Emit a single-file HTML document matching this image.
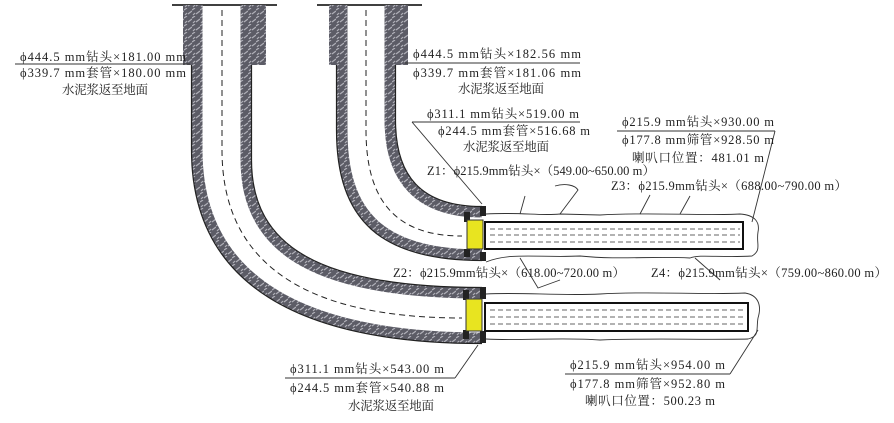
<!DOCTYPE html>
<html><head><meta charset="utf-8"><style>
html,body{margin:0;padding:0;background:#fff;}
svg{display:block;}
text{font-family:"Liberation Serif","Noto Serif CJK SC",serif;font-size:12.5px;fill:#222;}
</style></head><body>
<svg width="894" height="423" viewBox="0 0 894 423" xmlns="http://www.w3.org/2000/svg">
<defs>
<pattern id="m" width="8" height="8" patternUnits="userSpaceOnUse">
<rect width="8" height="8" fill="#5c5c66"/>
<path d="M0 2 L3 0 M4 6 L8 3 M1 7 L3 5" stroke="#b0b0b8" stroke-width="1.2"/>
</pattern>
</defs>
<line x1="172" y1="5" x2="277" y2="5" stroke="#000" stroke-width="1.5"/>
<line x1="317" y1="5" x2="422" y2="5" stroke="#000" stroke-width="1.5"/>
<rect x="183" y="5" width="14" height="60" fill="url(#m)"/>
<rect x="251" y="5" width="15" height="60" fill="url(#m)"/>
<rect x="329" y="5" width="11" height="60" fill="url(#m)"/>
<rect x="393" y="5" width="15" height="60" fill="url(#m)"/>
<g fill="none" stroke="url(#m)" stroke-width="11">
<path d="M197,5 L197,150 C197,280 300,338 482,338"/>
<path d="M246,5 L246,160 C246,252 320,293 482,293"/>
<path d="M342,5 L342,130 C342,215 380,255 482,255"/>
<path d="M390,5 L390,120 C390,180 420,212 482,212"/>
</g>
<g fill="none" stroke="#222" stroke-width="1.2">
<path d="M191.5,65 L191.5,150 C191.5,285 300,343.5 482,343.5"/>
<path d="M251.5,65 L251.5,160 C251.5,247 320,287.5 482,287.5"/>
<path d="M336.5,65 L336.5,130 C336.5,220 380,260.5 482,260.5"/>
<path d="M395.5,65 L395.5,120 C395.5,175 420,206.5 482,206.5"/>
</g>
<path d="M222,10 L222,150 C222,260 300,318 462,318" fill="none" stroke="#222" stroke-width="1" stroke-dasharray="6,4"/>
<path d="M366,10 L366,130 C366,200 395,236 462,236" fill="none" stroke="#222" stroke-width="1" stroke-dasharray="6,4"/>
<rect x="464" y="212" width="6" height="10" fill="#222"/>
<rect x="464" y="249" width="6" height="8" fill="#222"/>
<rect x="480" y="206" width="6" height="10" fill="#222"/>
<rect x="480" y="252" width="6" height="9" fill="#222"/>
<rect x="463" y="290" width="6" height="10" fill="#222"/>
<rect x="463" y="330" width="6" height="9" fill="#222"/>
<rect x="480" y="287" width="6" height="12" fill="#222"/>
<rect x="480" y="331" width="6" height="12" fill="#222"/>
<rect x="467" y="220" width="16" height="29" fill="#e8e420" stroke="#333"/>
<rect x="466" y="299" width="16" height="32" fill="#e8e420" stroke="#333"/>
<rect x="485" y="222" width="258" height="27" fill="#fff" stroke="#111" stroke-width="2"/>
<rect x="485" y="303" width="263" height="28" fill="#fff" stroke="#111" stroke-width="2"/>
<g stroke="#333" stroke-width="0.8" stroke-dasharray="5,3">
<line x1="490" y1="229" x2="740" y2="229"/><line x1="490" y1="235" x2="740" y2="235"/><line x1="490" y1="242" x2="740" y2="242"/>
<line x1="490" y1="310" x2="745" y2="310"/><line x1="490" y1="317" x2="745" y2="317"/><line x1="490" y1="324" x2="745" y2="324"/>
</g>
<g fill="none" stroke="#333" stroke-width="0.9">
<path d="M486,214 C520,212 540,216 560,214 L600,215 C650,212 700,216 740,214 C755,215 760,222 758,232 C756,244 762,250 752,256 C720,258 700,254 690,258 C650,256 620,260 580,256 C540,258 510,252 486,262"/>
<path d="M486,294 C520,292 560,296 600,294 C650,291 700,295 745,293 C758,295 762,305 758,318 C756,330 760,336 748,339 C700,340 650,338 600,340 C560,337 520,341 486,339"/>
<line x1="412" y1="122" x2="482" y2="204"/>
<path d="M560,214 L578,190 C575,185 565,183 555,186"/>
<path d="M520,214 L525,196"/>
<path d="M640,214 L650,195"/>
<path d="M680,214 L690,196"/>
<line x1="775" y1="131" x2="752" y2="222"/>
<path d="M520,258 L538,288 L560,280"/>
<path d="M695,258 L720,280"/>
<line x1="285" y1="378" x2="455" y2="378"/>
<line x1="455" y1="378" x2="478" y2="345"/>
<line x1="730" y1="374" x2="758" y2="330"/>
</g>
<g stroke="#333" stroke-width="1">
<line x1="15" y1="64" x2="190" y2="64"/>
<line x1="405" y1="63" x2="580" y2="63"/>
<line x1="412" y1="122" x2="580" y2="122"/>
<line x1="617" y1="131" x2="775" y2="131"/>
<line x1="565" y1="374" x2="730" y2="374"/>
</g>
<text x="20" y="61" textLength="166">ϕ444.5 mm钻头×181.00 mm</text>
<text x="20" y="77" textLength="166">ϕ339.7 mm套管×180.00 mm</text>
<text x="62" y="94" textLength="86">水泥浆返至地面</text>
<text x="413" y="58" textLength="168">ϕ444.5 mm钻头×182.56 mm</text>
<text x="413" y="77" textLength="168">ϕ339.7 mm套管×181.06 mm</text>
<text x="458" y="93" textLength="86">水泥浆返至地面</text>
<text x="427" y="118" textLength="152">ϕ311.1 mm钻头×519.00 m</text>
<text x="438" y="135" textLength="152">ϕ244.5 mm套管×516.68 m</text>
<text x="463" y="151" textLength="86">水泥浆返至地面</text>
<text x="427" y="175" textLength="228">Z1：ϕ215.9mm钻头×（549.00~650.00 m）</text>
<text x="622" y="126" textLength="152">ϕ215.9 mm钻头×930.00 m</text>
<text x="622" y="144" textLength="152">ϕ177.8 mm筛管×928.50 m</text>
<text x="632" y="162" textLength="132">喇叭口位置：481.01 m</text>
<text x="611" y="190" textLength="236">Z3：ϕ215.9mm钻头×（688.00~790.00 m）</text>
<text x="393" y="277" textLength="232">Z2：ϕ215.9mm钻头×（618.00~720.00 m）</text>
<text x="651" y="277" textLength="236">Z4：ϕ215.9mm钻头×（759.00~860.00 m）</text>
<text x="290" y="373" textLength="154">ϕ311.1 mm钻头×543.00 m</text>
<text x="290" y="392" textLength="154">ϕ244.5 mm套管×540.88 m</text>
<text x="348" y="410" textLength="86">水泥浆返至地面</text>
<text x="570" y="369" textLength="155">ϕ215.9 mm钻头×954.00 m</text>
<text x="570" y="388" textLength="155">ϕ177.8 mm筛管×952.80 m</text>
<text x="585" y="405" textLength="130">喇叭口位置：500.23 m</text>
</svg>
</body></html>
